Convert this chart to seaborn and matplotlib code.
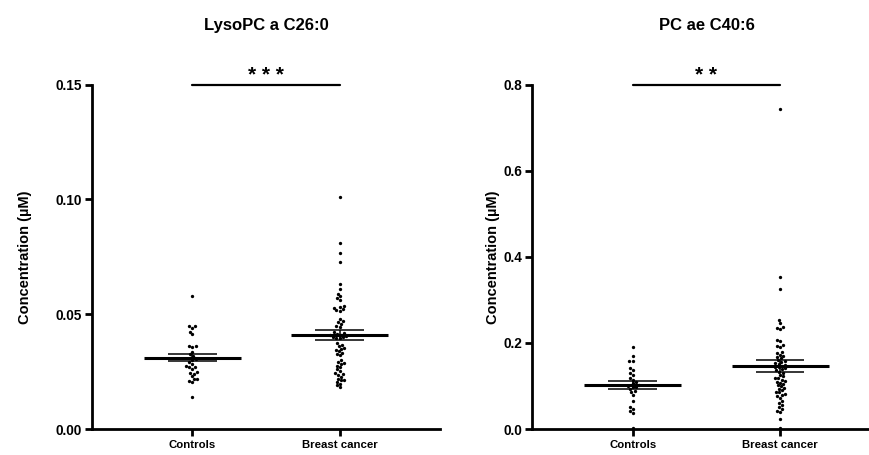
"""
plot.py
    Scatter plots of metabolite concentrations (mean +/- SEM) for
    controls vs breast cancer, two panels.
Output:
  - out.png
"""

import numpy as np
import pandas as pd
import matplotlib
matplotlib.use('Agg')
import matplotlib.pyplot as plt
import seaborn as sns
import warnings

warnings.filterwarnings("ignore")

# Constant definition
OUT_PATH = 'out.png'
GROUPS = ['Controls', 'Breast cancer']
TITLES = ['LysoPC a C26:0', 'PC ae C40:6']
Y_LABEL = 'Concentration (µM)'
SIGNIF = ['* * *', '* *']

# Data
lyso_controls = [0.058, 0.0450, 0.0448, 0.0440, 0.0424, 0.0414, 0.0362, 0.0360,
                 0.0358, 0.0335, 0.0325, 0.0318, 0.0310, 0.0305, 0.0300, 0.0292,
                 0.0285, 0.0275, 0.0270, 0.0270, 0.0262, 0.0250, 0.0242, 0.0240,
                 0.0230, 0.0220, 0.0218, 0.0210, 0.0205, 0.0141]
lyso_cancer = [0.1009, 0.0809, 0.0768, 0.0729, 0.0630, 0.0610,
               0.0590, 0.0580, 0.0572, 0.0562,
               0.0535, 0.0530, 0.0528, 0.0522, 0.0518, 0.0515,
               0.0480, 0.0470, 0.0465, 0.0458, 0.0450, 0.0445,
               0.0422, 0.0418, 0.0414, 0.0410, 0.0408, 0.0405, 0.0402, 0.0400, 0.0398, 0.0396,
               0.0374, 0.0368, 0.0362, 0.0355, 0.0350, 0.0345, 0.0338, 0.0332, 0.0328, 0.0322,
               0.0300, 0.0293, 0.0288, 0.0282, 0.0275, 0.0268, 0.0260, 0.0252, 0.0244, 0.0240,
               0.0235, 0.0228, 0.0220, 0.0215, 0.0212, 0.0205, 0.0198, 0.0190, 0.0182]
pc_controls = [0.191, 0.170, 0.159, 0.157, 0.142, 0.136, 0.131, 0.126, 0.118,
               0.114, 0.110, 0.106, 0.103, 0.100, 0.098, 0.097, 0.093, 0.088,
               0.086, 0.079, 0.064, 0.052, 0.046, 0.041, 0.037, 0.003]
pc_cancer = [0.744, 0.353, 0.325, 0.253, 0.246, 0.236, 0.234, 0.232, 0.206, 0.204,
             0.194, 0.192, 0.190,
             0.180, 0.177, 0.173, 0.170, 0.167, 0.164,
             0.160, 0.158, 0.156, 0.153, 0.151, 0.149, 0.147, 0.145, 0.143, 0.141,
             0.139, 0.136, 0.133, 0.130, 0.125,
             0.122, 0.119, 0.118, 0.115, 0.112, 0.110, 0.108, 0.105, 0.102, 0.099,
             0.096, 0.093, 0.090, 0.087, 0.085, 0.082,
             0.079, 0.076, 0.072, 0.065,
             0.060, 0.055, 0.050, 0.046, 0.043, 0.040,
             0.0225, 0.003]

Y_LIMITS = [(0, 0.15), (0, 0.8)]
Y_TICKS = [[0.00, 0.05, 0.10, 0.15], [0.0, 0.2, 0.4, 0.6, 0.8]]
Y_FMT = ['{:.2f}', '{:.1f}']


def to_frame(controls, cancer):
    return pd.DataFrame({
        'group': [GROUPS[0]] * len(controls) + [GROUPS[1]] * len(cancer),
        'value': list(controls) + list(cancer)})


def draw_panel(ax, data, idx):
    sns.swarmplot(data=data, x='group', y='value', order=GROUPS, color='black',
                  size=2.4, ax=ax, zorder=2)
    # mean +/- SEM
    for i, g in enumerate(GROUPS):
        vals = data.loc[data['group'] == g, 'value'].to_numpy()
        mean = vals.mean()
        sem = vals.std(ddof=1) / np.sqrt(len(vals))
        ax.hlines(mean, i - 0.33, i + 0.33, color='black', lw=2.2, zorder=3)
        ax.hlines([mean - sem, mean + sem], i - 0.165, i + 0.165, color='black',
                  lw=1.1, zorder=3)
        ax.vlines(i, mean - sem, mean + sem, color='black', lw=1.1, zorder=3)

    top = Y_LIMITS[idx][1]
    ax.plot([0, 1], [top, top], color='black', lw=1.6, clip_on=False)
    ax.annotate(SIGNIF[idx], xy=(0.5, top), xytext=(0, 2.5),
                textcoords='offset points', ha='center', va='baseline',
                fontsize=15, fontweight='bold', annotation_clip=False)

    ax.set_xlim(-0.68, 1.68)
    ax.set_ylim(*Y_LIMITS[idx])
    ax.set_yticks(Y_TICKS[idx])
    ax.set_yticklabels([Y_FMT[idx].format(t) for t in Y_TICKS[idx]])
    ax.set_xlabel('')
    ax.set_ylabel(Y_LABEL, fontsize=10.5, fontweight='bold')
    ax.set_title(TITLES[idx], fontsize=12, fontweight='bold', pad=39.5)
    for lab in ax.get_xticklabels() + ax.get_yticklabels():
        lab.set_fontweight('bold')
    ax.tick_params(axis='both', width=2.0, length=5,
                   direction='out', colors='black', pad=2)
    ax.tick_params(axis='y', labelsize=9.8)
    ax.tick_params(axis='x', labelsize=8.2, pad=3)
    for s in ['left', 'bottom']:
        ax.spines[s].set_linewidth(2.0)
        ax.spines[s].set_color('black')
    sns.despine(ax=ax)


def main():
    sns.set_style('ticks')
    plt.rcParams['font.family'] = ['Liberation Sans', 'DejaVu Sans']
    plt.rcParams['text.color'] = 'black'
    plt.rcParams['axes.labelcolor'] = 'black'

    fig = plt.figure(figsize=(8.7, 4.55), dpi=100)
    ax1 = fig.add_axes([0.1057, 0.0571, 0.40, 0.757])
    ax2 = fig.add_axes([0.612, 0.0571, 0.40, 0.757])

    draw_panel(ax1, to_frame(lyso_controls, lyso_cancer), 0)
    draw_panel(ax2, to_frame(pc_controls, pc_cancer), 1)

    ax1.yaxis.set_label_coords(-0.172, 0.5)
    ax2.yaxis.set_label_coords(-0.093, 0.5)

    fig.savefig(OUT_PATH, dpi=100)


if __name__ == "__main__":
    main()
